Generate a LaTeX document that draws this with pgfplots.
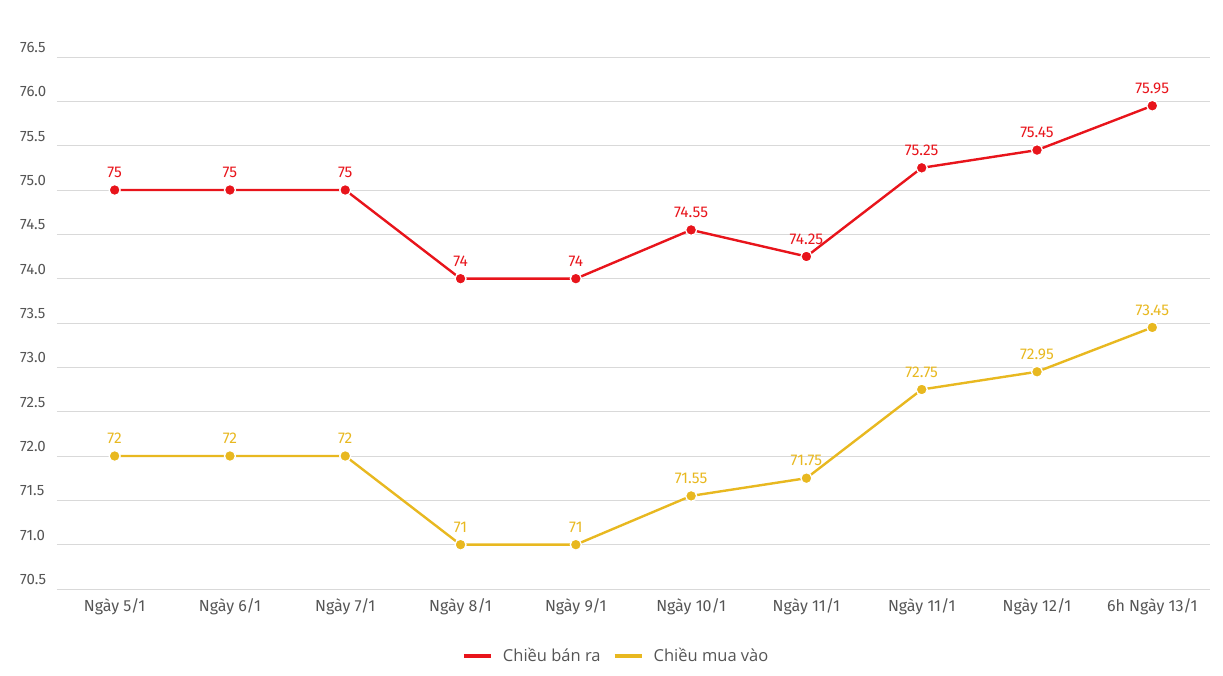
\documentclass[border=0pt]{standalone}
\usepackage{fontspec}
\setmainfont{Fira Sans}
\newfontfamily\legfont{Open Sans}
\usepackage{pgfplots}
\pgfplotsset{compat=1.18}
\definecolor{cred}{HTML}{E8141B}
\definecolor{cyel}{HTML}{E8B820}
\definecolor{tgray}{HTML}{555555}
\definecolor{ggray}{HTML}{D9D9D9}
\begin{document}
\begin{tikzpicture}[x=1pt,y=1pt]
\path[use as bounding box] (-57,-87) rectangle (1166,589);
\begin{axis}[
  at={(0,0)}, anchor=south west,
  scale only axis, width=1153pt, height=532pt,
  xmin=-0.5, xmax=9.5, ymin=70.5, ymax=76.5,
  axis line style={draw=none},
  major tick length=0pt,
  ytick={70.5,71,...,76.5},
  ymajorgrids, grid style={ggray, line width=0.8pt},
  xtick={0,...,9},
  xticklabels={Ngày 5/1,Ngày 6/1,Ngày 7/1,Ngày 8/1,Ngày 9/1,Ngày 10/1,Ngày 11/1,Ngày 11/1,Ngày 12/1,6h Ngày 13/1},
  /pgf/number format/assume math mode=true,
  yticklabel={\pgfmathprintnumber[fixed,fixed zerofill,precision=1]{\tick}},
  yticklabel style={anchor=south west, inner sep=0pt, xshift=-37pt, yshift=4pt, font=\fontsize{15}{17}\selectfont, text=tgray},
  xticklabel style={anchor=north, inner sep=0pt, yshift=-9pt, font=\fontsize{16}{18}\selectfont, text=tgray},
  clip=false,
  nodes near coords,
  nodes near coords style={font=\fontsize{15.5}{17}\selectfont, anchor=south, yshift=8pt},
  legend style={at={(0.485,-0.126)}, anchor=center, draw=none, fill=none, legend columns=2,
    font=\legfont\fontsize{16.5}{18}\selectfont, text=tgray,
    /tikz/every odd column/.append style={column sep=8pt},
    /tikz/every even column/.append style={column sep=10pt}},
  legend image code/.code={\draw[#1, line width=4pt] (0pt,0pt) -- (27pt,0pt);},
]
\addplot[cred, line width=2.4pt, mark=*, mark size=5.5pt, mark options={draw=white, line width=1.3pt, fill=cred},
  nodes near coords style={text=cred}] coordinates {
  (0,75) (1,75) (2,75) (3,74) (4,74) (5,74.55) (6,74.25) (7,75.25) (8,75.45) (9,75.95)};
\addlegendentry{Chiều bán ra}
\addplot[cyel, line width=2.4pt, mark=*, mark size=5.5pt, mark options={draw=white, line width=1.3pt, fill=cyel},
  nodes near coords style={text=cyel}] coordinates {
  (0,72) (1,72) (2,72) (3,71) (4,71) (5,71.55) (6,71.75) (7,72.75) (8,72.95) (9,73.45)};
\addlegendentry{Chiều mua vào}
\end{axis}
\end{tikzpicture}
\end{document}
